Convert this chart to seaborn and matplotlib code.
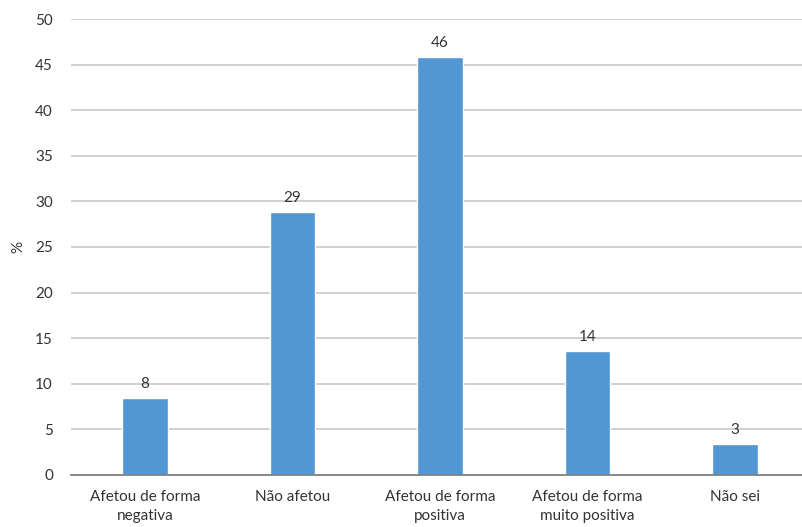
import matplotlib
matplotlib.use("Agg")
import matplotlib.pyplot as plt
import seaborn as sns
import pandas as pd

categories = ["Afetou de forma\nnegativa", "Não afetou", "Afetou de forma\npositiva",
              "Afetou de forma\nmuito positiva", "Não sei"]
values = [8.4, 28.8, 45.8, 13.6, 3.4]
labels = ["8", "29", "46", "14", "3"]
yticks = [0, 5, 10, 15, 20, 25, 30, 35, 40, 45, 50]

sns.set_theme(style="white")
plt.rcParams['font.family'] = ['Lato', 'DejaVu Sans']

df = pd.DataFrame({"cat": categories, "val": values})

fig = plt.figure(figsize=(8.03, 5.27), dpi=100)
ax = fig.add_axes([71/803, 52/527, 738/803, 456/527])

sns.barplot(data=df, x="cat", y="val", color="#5097D3", width=0.31,
            saturation=1, ax=ax, zorder=3)

ax.set_ylim(0, 50)
ax.set_xlim(-0.5, 4.5)
ax.set_yticks(yticks)
ax.set_yticklabels([str(t) for t in yticks], fontsize=11, color="#333333")
ax.tick_params(axis='y', length=0, pad=13)
ax.tick_params(axis='x', length=0, pad=11, labelsize=11, labelcolor="#333333")
for t in ax.get_xticklabels():
    t.set_linespacing(1.45)
ax.yaxis.grid(True, color="#C8C8C8", linewidth=1.2, zorder=0)
ax.set_axisbelow(True)
for s in ["top", "right", "left"]:
    ax.spines[s].set_visible(False)
ax.spines["bottom"].set_color("#808080")
ax.spines["bottom"].set_linewidth(1.3)
ax.spines["bottom"].set_zorder(4)
ax.set_xlabel("")
ax.set_ylabel("%", fontsize=11, color="#333333")
ax.yaxis.set_label_coords((25 - 71) / 738, 0.5)

for p, lab in zip(ax.patches, labels):
    ax.annotate(lab, (p.get_x() + p.get_width() / 2, p.get_height()),
                xytext=(0, 5), textcoords="offset points",
                ha="center", va="bottom", fontsize=11, color="#333333", zorder=5)

fig.savefig("out.png", dpi=100)
